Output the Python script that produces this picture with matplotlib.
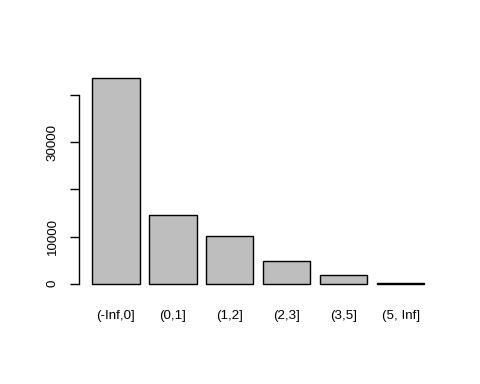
import matplotlib
matplotlib.use("Agg")
import matplotlib.pyplot as plt

categories = ["(-Inf,0]", "(0,1]", "(1,2]", "(2,3]", "(3,5]", "(5, Inf]"]
counts = [43500, 14600, 10150, 4850, 1900, 150]
yticks = [0, 10000, 20000, 30000, 40000]
ytick_labels = ["0", "10000", "", "30000", ""]

plt.rcParams['font.family'] = ['Liberation Sans', 'DejaVu Sans']

fig = plt.figure(figsize=(4.8, 3.84), dpi=100)
ax = fig.add_axes([0.164, 0.2396, 0.748, 0.578])

# R barplot layout: width 1, space 0.2
centers = [0.7 + 1.2 * i for i in range(len(counts))]
ax.bar(centers, counts, width=1.0, color="#bebebe", edgecolor="black", linewidth=1.0)

ax.set_xlim(-0.08, 7.48)
ymax = max(counts)
ax.set_ylim(-0.04 * ymax, 1.04 * ymax)

for side in ["top", "right", "bottom"]:
    ax.spines[side].set_visible(False)
ax.spines["left"].set_bounds(0, 40000)
ax.spines["left"].set_linewidth(1.0)

ax.set_yticks(yticks)
ax.set_yticklabels(ytick_labels, rotation=90, va="center", fontsize=9.6)
ax.tick_params(axis="y", length=6.5, width=1.0, pad=8)

ax.set_xticks(centers)
ax.set_xticklabels(categories, fontsize=9.6)
ax.tick_params(axis="x", length=0, pad=13)

fig.savefig("out.png", dpi=100)
